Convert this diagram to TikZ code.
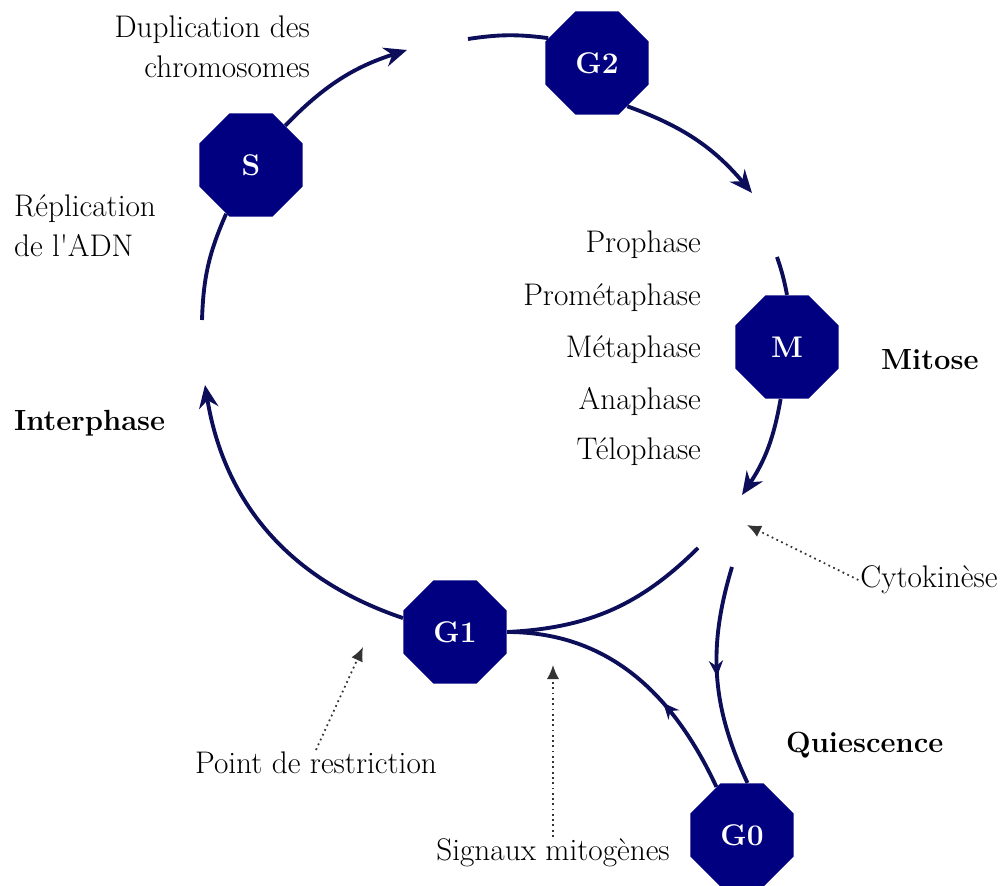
\documentclass[tikz,border=0pt]{standalone}
\usepackage{xcolor}
\usepackage{tikz}
\definecolor{cyclenavy}{RGB}{0, 0, 128}
\definecolor{cycleline}{RGB}{12, 14, 90}
\usetikzlibrary{arrows.meta,shapes.geometric,decorations.markings}
\tikzset{midarrow/.style={postaction={decorate}, decoration={markings, mark=at position #1 with {\arrow{Stealth[length=9pt,width=8pt]}}}}}

\begin{document}
\begin{tikzpicture}[x=0.02cm, y=0.02cm, every node/.style={font=\fontsize{17.8}{22.5}\selectfont, inner sep=1pt}]
    % Define styles
    \tikzstyle{stage} = [regular polygon, regular polygon sides=8, minimum size=2.24cm, inner sep=0pt,
                         fill=cyclenavy, text=white, font=\fontsize{17}{19}\selectfont\bfseries]
    \tikzstyle{bold} = [font=\fontsize{16.6}{22}\selectfont\bfseries]
    \tikzstyle{flowline} = [color=cycleline, line width=2.2pt]
    \tikzstyle{flow} = [flowline, -{Stealth[length=13pt,width=11pt]}]
    \tikzstyle{hint} = [draw=black!80, line width=1pt, dotted, -{Latex[length=8pt,width=7pt]}]

    \useasboundingbox (0,0) rectangle (1003,885);

    % Stages of the cycle
    \node[stage] (S) at (251,720) {S};
    \node[stage] (G2) at (597,822) {G2};
    \node[stage] (M) at (787,538) {M};
    \node[stage] (G1) at (455,253) {G1};
    \node[stage] (G0) at (742,50) {G0};

    % Free ends of the arcs
    \coordinate (sgap) at (407,835);
    \coordinate (g2start) at (468,846);
    \coordinate (g2gap) at (752,692);
    \coordinate (mstart) at (777,628);
    \coordinate (mgap) at (742,390);
    \coordinate (g1start) at (698,337);
    \coordinate (g1gap) at (205,500);
    \coordinate (sstart) at (202,565);
    \coordinate (g0start) at (732,318);
    \coordinate (cytotip) at (747,360);
    \coordinate (restrtip) at (363,238);
    \coordinate (signauxtip) at (553,220);

    % Labels
    \node[align=right, anchor=east] (dupl) at (312,838) {Duplication des\\chromosomes};
    \node[align=left, anchor=west] (repl) at (12,659) {Réplication\\de l\textquotesingle ADN};
    \node[bold, anchor=west] (inter) at (12,462) {Interphase};
    \node[bold, anchor=west] (mitose) at (879,525) {Mitose};
    \node[bold, anchor=west] (quies) at (784,140) {Quiescence};
    \node (cyto) at (929,305) {Cytokinèse};
    \node (restr) at (316,122) {Point de restriction};
    \node (signaux) at (553,32) {Signaux mitogènes};

    % Phases of mitosis
    \node[anchor=east] (pro) at (703,640) {Prophase};
    \node[anchor=east] (prometa) at (703,587) {Prométaphase};
    \node[anchor=east] (meta) at (703,535) {Métaphase};
    \node[anchor=east] (ana) at (703,483) {Anaphase};
    \node[anchor=east] (telo) at (703,433) {Télophase};

    % Cycle arcs
    \draw[flow] (S.49) to[bend left=14] (sgap);
    \draw[flowline] (g2start) to[bend left=8] (G2.153);
    \draw[flow] (G2.-55) to[bend left=15] (g2gap);
    \draw[flowline] (mstart) to[bend left=4] (M.north);
    \draw[flow] (M.-97) to[bend left=12] (mgap);
    \draw[flowline] (g1start) to[bend left=21] (G1.east);
    \draw[flow] (G1.165) to[bend left=31] (g1gap);
    \draw[flowline] (sstart) to[bend left=11] (S.243);

    % Quiescence branch
    \draw[flowline, midarrow=0.36] (G0.118) to[out=115, in=0] (G1.east);
    \draw[flowline, midarrow=0.5] (g0start) to[bend right=21] (G0.84);

    % Dotted pointers
    \draw[hint] (cyto.west) -- (cytotip);
    \draw[hint] (restr.north) -- (restrtip);
    \draw[hint] (signaux.north) -- (signauxtip);
\end{tikzpicture}
\end{document}
